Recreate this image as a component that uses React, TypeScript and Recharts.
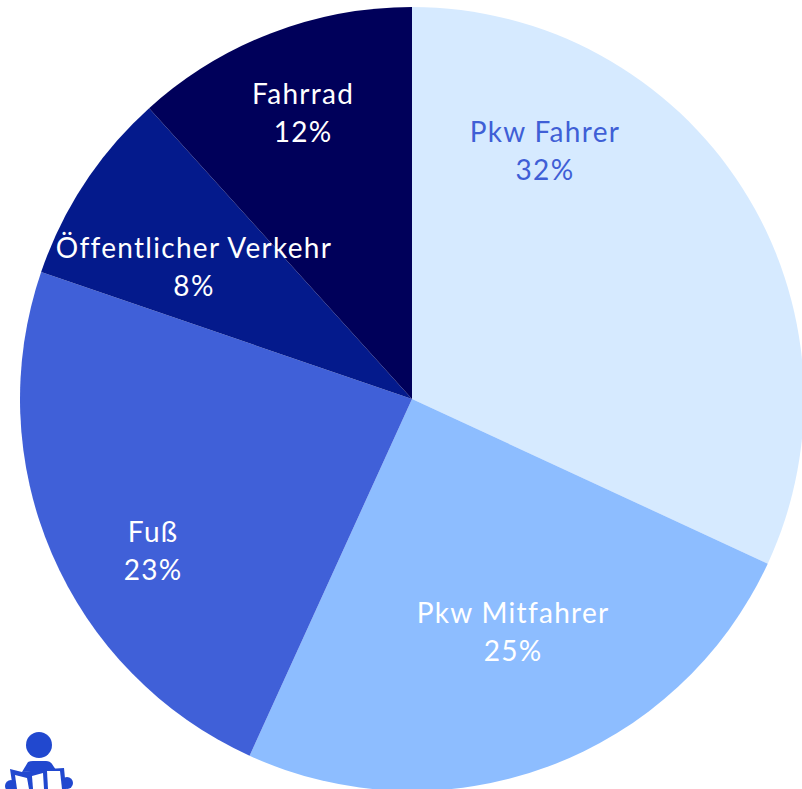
import React from "react";
import { PieChart, Pie, Cell } from "recharts";

const names = ["Pkw Fahrer", "Pkw Mitfahrer", "Fuß", "Öffentlicher Verkehr", "Fahrrad"];
const values = [31.9, 24.9, 23.45, 8.05, 11.7];
const percentLabels = ["32%", "25%", "23%", "8%", "12%"];
const colors = ["#d6eaff", "#8dbdff", "#4060d8", "#041a8c", "#00005a"];
const labelColors = ["#3f5fd6", "#ffffff", "#ffffff", "#ffffff", "#ffffff"];
const labelRadii = [280.5, 255.8, 300.8, 254.3, 305];
const labelAngles = [61.7, -66.7, 210.6, 149, 110.9];
const data = names.map((name, i) => ({ name, value: values[i] }));
const FONT = "Lato, 'Open Sans', sans-serif";

const renderLabel = (p: any) => {
  const RAD = Math.PI / 180;
  const r = labelRadii[p.index];
  const a = labelAngles[p.index];
  const x = p.cx + r * Math.cos(a * RAD);
  const y = p.cy - r * Math.sin(a * RAD);
  return (
    <text x={x} y={y} textAnchor="middle" fill={labelColors[p.index]} fontFamily={FONT} fontSize={28} fontWeight={400} letterSpacing={1.3}>
      <tspan x={x} dy={-10.5}>{p.name}</tspan>
      <tspan x={x} dy={38}>{percentLabels[p.index]}</tspan>
    </text>
  );
};

export default function App() {
  return (
    <div style={{ position: "absolute", left: 0, top: 0, width: 802, height: 789, overflow: "hidden", background: "#fff" }}>
      <PieChart width={802} height={789} margin={{ top: 0, right: 0, bottom: 0, left: 0 }}>
        <Pie data={data} dataKey="value" nameKey="name" cx={412} cy={399} outerRadius={392} innerRadius={0}
          startAngle={90} endAngle={-270} stroke="none" label={renderLabel} labelLine={false} isAnimationActive={false}>
          {data.map((d, i) => <Cell key={d.name} fill={colors[i]} />)}
        </Pie>
      </PieChart>
      <svg width={802} height={789} style={{ position: "absolute", left: 0, top: 0, pointerEvents: "none" }}>
        <g fill="#2148cf">
          <circle cx={39} cy={745} r={13} />
          <path d="M28 762 Q30 761 33 761 L46 761 Q50 761 52 764 L56 770 L22 772 Z" />
          <path d="M10 769 L22 772 L48 769 L64 768 L66 789 L13 789 Z" />
          <circle cx={11} cy={786} r={6} />
          <circle cx={67} cy={783} r={6} />
        </g>
        <g fill="#ffffff">
          <path d="M15 775 L27 778 L29 789 L17 789 Z" />
          <path d="M32 776 L43 773 L44 789 L33 789 Z" />
          <path d="M47 771 L60 771 L62 789 L48 789 Z" />
        </g>
      </svg>
    </div>
  );
}
